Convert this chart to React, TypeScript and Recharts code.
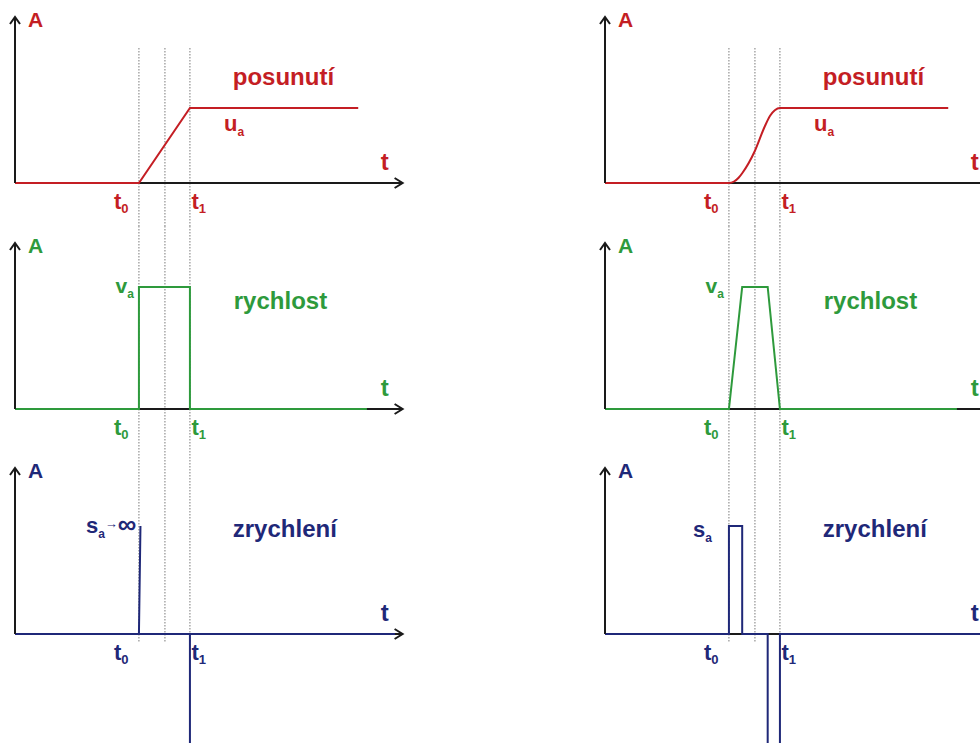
import React from 'react';
import { ComposedChart, Line, XAxis, YAxis, ReferenceLine, ReferenceDot } from 'recharts';

// ---- palette & type ----
const RED = '#c41e24';
const GREEN = '#2e9a3c';
const NAVY = '#1f2878';
const AXIS = '#1a1a1a';
const GUIDE = '#7a7a7a';
const FONT = '"Liberation Sans", Arial, Helvetica, sans-serif';

// ---- time markers (t0, midpoint, t1) and axis length ----
const T0 = 2.43;
const TM = 2.94;
const T1 = 3.43;
const T_MAX = 7.6;
const GUIDE_TIMES = [T0, TM, T1];

// ---- ideal motion (left column) ----
const idealPosT = [0, 2.43, 3.43, 6.73];
const idealPosA = [0, 0, 1, 1];
const idealVelT = [0, 2.43, 2.43, 3.43, 3.43, 6.9];
const idealVelA = [0, 0, 1, 1, 0, 0];
const idealAccT = [0, 2.43, 2.46, 2.43, 3.43, 3.43, 3.43, 7.45];
const idealAccA = [0, 0, 1, 0, 0, -1.4, 0, 0];

// ---- real motion (right column) ----
const realPosT = [0, 2.43, 2.53, 2.62, 2.69, 2.94, 3.13, 3.24, 3.33, 3.43, 6.73];
const realPosA = [0, 0, 0.02, 0.07, 0.13, 0.43, 0.75, 0.9, 0.97, 1, 1];
const realVelT = [0, 2.43, 2.69, 3.19, 3.43, 6.9];
const realVelA = [0, 0, 1, 1, 0, 0];
const realAccT = [0, 2.43, 2.43, 2.69, 2.69, 3.19, 3.19, 3.43, 3.43, 7.6];
const realAccA = [0, 0, 1, 1, 0, 0, -1.4, -1.4, 0, 0];

// ---- text ----
const ROW_TITLES = ['posunutí', 'rychlost', 'zrychlení'];
const AXIS_NAME_Y = 'A';
const AXIS_NAME_T = 't';
const TICK_T0 = ['t', '0'];
const TICK_T1 = ['t', '1'];

// ---- layout ----
const CHART_W = 490;
const LEFT = 15;
const PX_PER_T = 51;
const AXIS_Y = 183; // time axis, measured from the top of each panel
const ARROW_UP = 166;
const A_LABEL_UP = 156;
const T_LABEL_UP = 13;
const TICK_DOWN = 26;
const PANEL_TOPS = [0, 226, 451];
const PANEL_HEIGHTS = [226, 225, 292];
const PX_PER_A = [75, 122, 108];
const COLUMN_LEFTS = [0, 590];

type Draw = (x: number, y: number) => React.ReactElement;
type Mark = { t: number; a: number; draw: Draw };

const word = (text: string, color: string, size = 24): Draw => (x, y) => (
  <text x={x} y={y} fill={color} fontSize={size} fontWeight={700} fontFamily={FONT}>
    {text}
  </text>
);

const subbed = (main: string, sub: string, color: string, size = 22, subSize = 12, drop = 5): Draw => (x, y) => (
  <text x={x} y={y} fill={color} fontSize={size} fontWeight={700} fontFamily={FONT}>
    {main}
    <tspan fontSize={subSize} dy={drop}>
      {sub}
    </tspan>
  </text>
);

const sInfinity = (color: string): Draw => (x, y) => (
  <text x={x} y={y} fill={color} fontSize={22} fontWeight={700} fontFamily={FONT}>
    s
    <tspan fontSize={12} dy={5}>a</tspan>
    <tspan fontSize={13} dy={-10}>→</tspan>
    <tspan fontSize={26} dy={5}>∞</tspan>
  </text>
);

type PanelProps = {
  row: number;
  color: string;
  t: number[];
  a: number[];
  curve: 'linear' | 'monotone';
  guideTop?: number;
  guideBottom?: number;
  marks: Mark[];
};

function Panel({ row, color, t, a, curve, guideTop, guideBottom, marks }: PanelProps) {
  const h = PANEL_HEIGHTS[row];
  const k = PX_PER_A[row];
  const hi = AXIS_Y / k;
  const lo = -(h - AXIS_Y) / k;
  const gTop = guideTop ?? hi;
  const gBot = guideBottom ?? lo;
  const arrowTop = ARROW_UP / k;
  const series = t.map((v, i) => ({ t: v, a: a[i] }));
  const baseline = [
    { t: 0, a: 0 },
    { t: T_MAX, a: 0 },
  ];

  const common: Mark[] = [
    { t: 0.255, a: A_LABEL_UP / k, draw: word(AXIS_NAME_Y, color, 21) },
    {
      t: 7.25,
      a: T_LABEL_UP / k,
      draw: (x, y) => (
        <text x={x} y={y} textAnchor="middle" fill={color} fontSize={24} fontWeight={700} fontFamily={FONT}>
          {AXIS_NAME_T}
        </text>
      ),
    },
    { t: 1.94, a: -TICK_DOWN / k, draw: subbed(TICK_T0[0], TICK_T0[1], color, 22, 13, 4) },
    { t: 3.46, a: -TICK_DOWN / k, draw: subbed(TICK_T1[0], TICK_T1[1], color, 22, 13, 4) },
  ];

  return (
    <div style={{ position: 'absolute', left: 0, top: PANEL_TOPS[row], width: CHART_W, height: h }}>
      <ComposedChart
        width={CHART_W}
        height={h}
        margin={{ top: 0, bottom: 0, left: LEFT, right: CHART_W - LEFT - T_MAX * PX_PER_T }}
      >
        <XAxis type="number" dataKey="t" domain={[0, T_MAX]} hide allowDataOverflow />
        <YAxis type="number" domain={[lo, hi]} hide allowDataOverflow />
        {GUIDE_TIMES.map((g, i) => (
          <Line
            key={`guide-${i}`}
            data={[
              { t: g, a: gTop },
              { t: g, a: gBot },
            ]}
            dataKey="a"
            type="linear"
            stroke={GUIDE}
            strokeWidth={1}
            strokeDasharray="1.5 1.5"
            dot={false}
            activeDot={false}
            isAnimationActive={false}
          />
        ))}
        <Line
          data={baseline}
          dataKey="a"
          type="linear"
          stroke={AXIS}
          strokeWidth={2}
          dot={false}
          activeDot={false}
          isAnimationActive={false}
        />
        <Line
          data={series}
          dataKey="a"
          type={curve}
          stroke={color}
          strokeWidth={2}
          dot={false}
          activeDot={false}
          isAnimationActive={false}
        />
        <ReferenceLine
          segment={[
            { x: 0, y: 0 },
            { x: 0, y: arrowTop },
          ]}
          stroke={AXIS}
          strokeWidth={2}
          ifOverflow="visible"
        />
        <ReferenceDot
          x={T_MAX}
          y={0}
          r={0}
          ifOverflow="visible"
          shape={(p: any) => (
            <path
              d={`M${p.cx - 8},${p.cy - 5}L${p.cx},${p.cy}L${p.cx - 8},${p.cy + 5}`}
              fill="none"
              stroke={AXIS}
              strokeWidth={2}
            />
          )}
        />
        <ReferenceDot
          x={0}
          y={arrowTop}
          r={0}
          ifOverflow="visible"
          shape={(p: any) => (
            <path
              d={`M${p.cx - 5},${p.cy + 7}L${p.cx},${p.cy}L${p.cx + 5},${p.cy + 7}`}
              fill="none"
              stroke={AXIS}
              strokeWidth={2}
            />
          )}
        />
        {[...common, ...marks].map((m, i) => (
          <ReferenceDot key={`mark-${i}`} x={m.t} y={m.a} r={0} ifOverflow="visible" shape={(p: any) => m.draw(p.cx, p.cy)} />
        ))}
      </ComposedChart>
    </div>
  );
}

function Column({ left, real }: { left: number; real: boolean }) {
  return (
    <div style={{ position: 'absolute', left, top: 0, width: CHART_W, height: 743 }}>
      <Panel
        row={0}
        color={RED}
        t={real ? realPosT : idealPosT}
        a={real ? realPosA : idealPosA}
        curve={real ? 'monotone' : 'linear'}
        guideTop={1.8}
        marks={[
          { t: 4.27, a: 1.307, draw: word(ROW_TITLES[0], RED) },
          { t: 4.1, a: 0.69, draw: subbed('u', 'a', RED) },
        ]}
      />
      <Panel
        row={1}
        color={GREEN}
        t={real ? realVelT : idealVelT}
        a={real ? realVelA : idealVelA}
        curve="linear"
        marks={[
          { t: 4.29, a: 0.82, draw: word(ROW_TITLES[1], GREEN) },
          { t: 1.97, a: 0.95, draw: subbed('v', 'a', GREEN, 21) },
        ]}
      />
      <Panel
        row={2}
        color={NAVY}
        t={real ? realAccT : idealAccT}
        a={real ? realAccA : idealAccA}
        curve="linear"
        guideBottom={-0.083}
        marks={[
          { t: 4.27, a: 0.898, draw: word(ROW_TITLES[2], NAVY) },
          real
            ? { t: 1.725, a: 0.9, draw: subbed('s', 'a', NAVY) }
            : { t: 1.39, a: 0.935, draw: sInfinity(NAVY) },
        ]}
      />
    </div>
  );
}

export default function App() {
  return (
    <div
      style={{
        position: 'absolute',
        left: 0,
        top: 0,
        width: 980,
        height: 743,
        overflow: 'hidden',
        background: '#ffffff',
      }}
    >
      <Column left={COLUMN_LEFTS[0]} real={false} />
      <Column left={COLUMN_LEFTS[1]} real={true} />
    </div>
  );
}
